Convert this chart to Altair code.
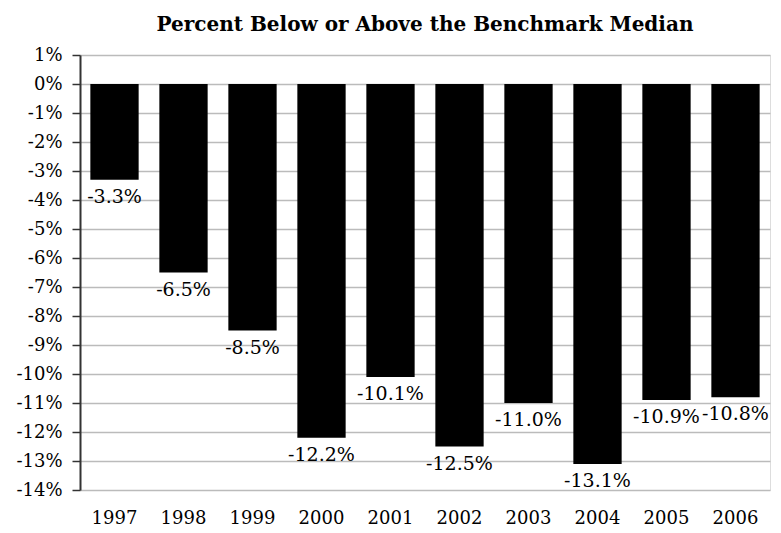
import altair as alt
import pandas as pd

years = ["1997", "1998", "1999", "2000", "2001", "2002", "2003", "2004", "2005", "2006"]
values = [-3.3, -6.5, -8.5, -12.2, -10.1, -12.5, -11.0, -13.1, -10.9, -10.8]
labels = ["-3.3%", "-6.5%", "-8.5%", "-12.2%", "-10.1%", "-12.5%", "-11.0%", "-13.1%", "-10.9%", "-10.8%"]
y_ticks = list(range(1, -15, -1))

df = pd.DataFrame({"year": years, "value": values, "label": labels})

FONT = "DejaVu Serif"

x = alt.X("year:N", sort=years, title=None,
          scale=alt.Scale(paddingInner=0.3, paddingOuter=0.15),
          axis=alt.Axis(labelAngle=0, domain=False, ticks=False, labelPadding=19,
                        labelFontSize=18, labelFont=FONT, labelColor="#000"))
y = alt.Y("value:Q", title=None,
          scale=alt.Scale(domain=[-14, 1], nice=False, zero=False),
          axis=alt.Axis(values=y_ticks, labelExpr="datum.value + '%'", labelOverlap=False,
                        grid=True, gridColor="#bbbbbb", gridWidth=1.5,
                        domainColor="#333", domainWidth=2, tickColor="#333",
                        tickSize=8, tickWidth=1.5, labelFontSize=18, labelFont=FONT,
                        labelColor="#000", labelPadding=10))

bars = alt.Chart(df).mark_bar(color="#000000").encode(x=x, y=y, y2=alt.datum(0))
text = alt.Chart(df).mark_text(baseline="top", dy=8, fontSize=19, font=FONT, color="#000").encode(
    x=x, y=y, text="label:N")

chart = (bars + text).properties(
    width=690, height=435,
    autosize=alt.AutoSizeParams(type="none"),
    padding={"left": 72, "top": 47, "right": 3, "bottom": 42},
    title=alt.TitleParams("Percent Below or Above the Benchmark Median", fontSize=20,
                          font=FONT, fontWeight="bold", color="#000", offset=11, anchor="middle"),
).configure_view(stroke=None).configure(background="white")

chart.save("out.html", embed_options={"renderer": "svg", "actions": False})
